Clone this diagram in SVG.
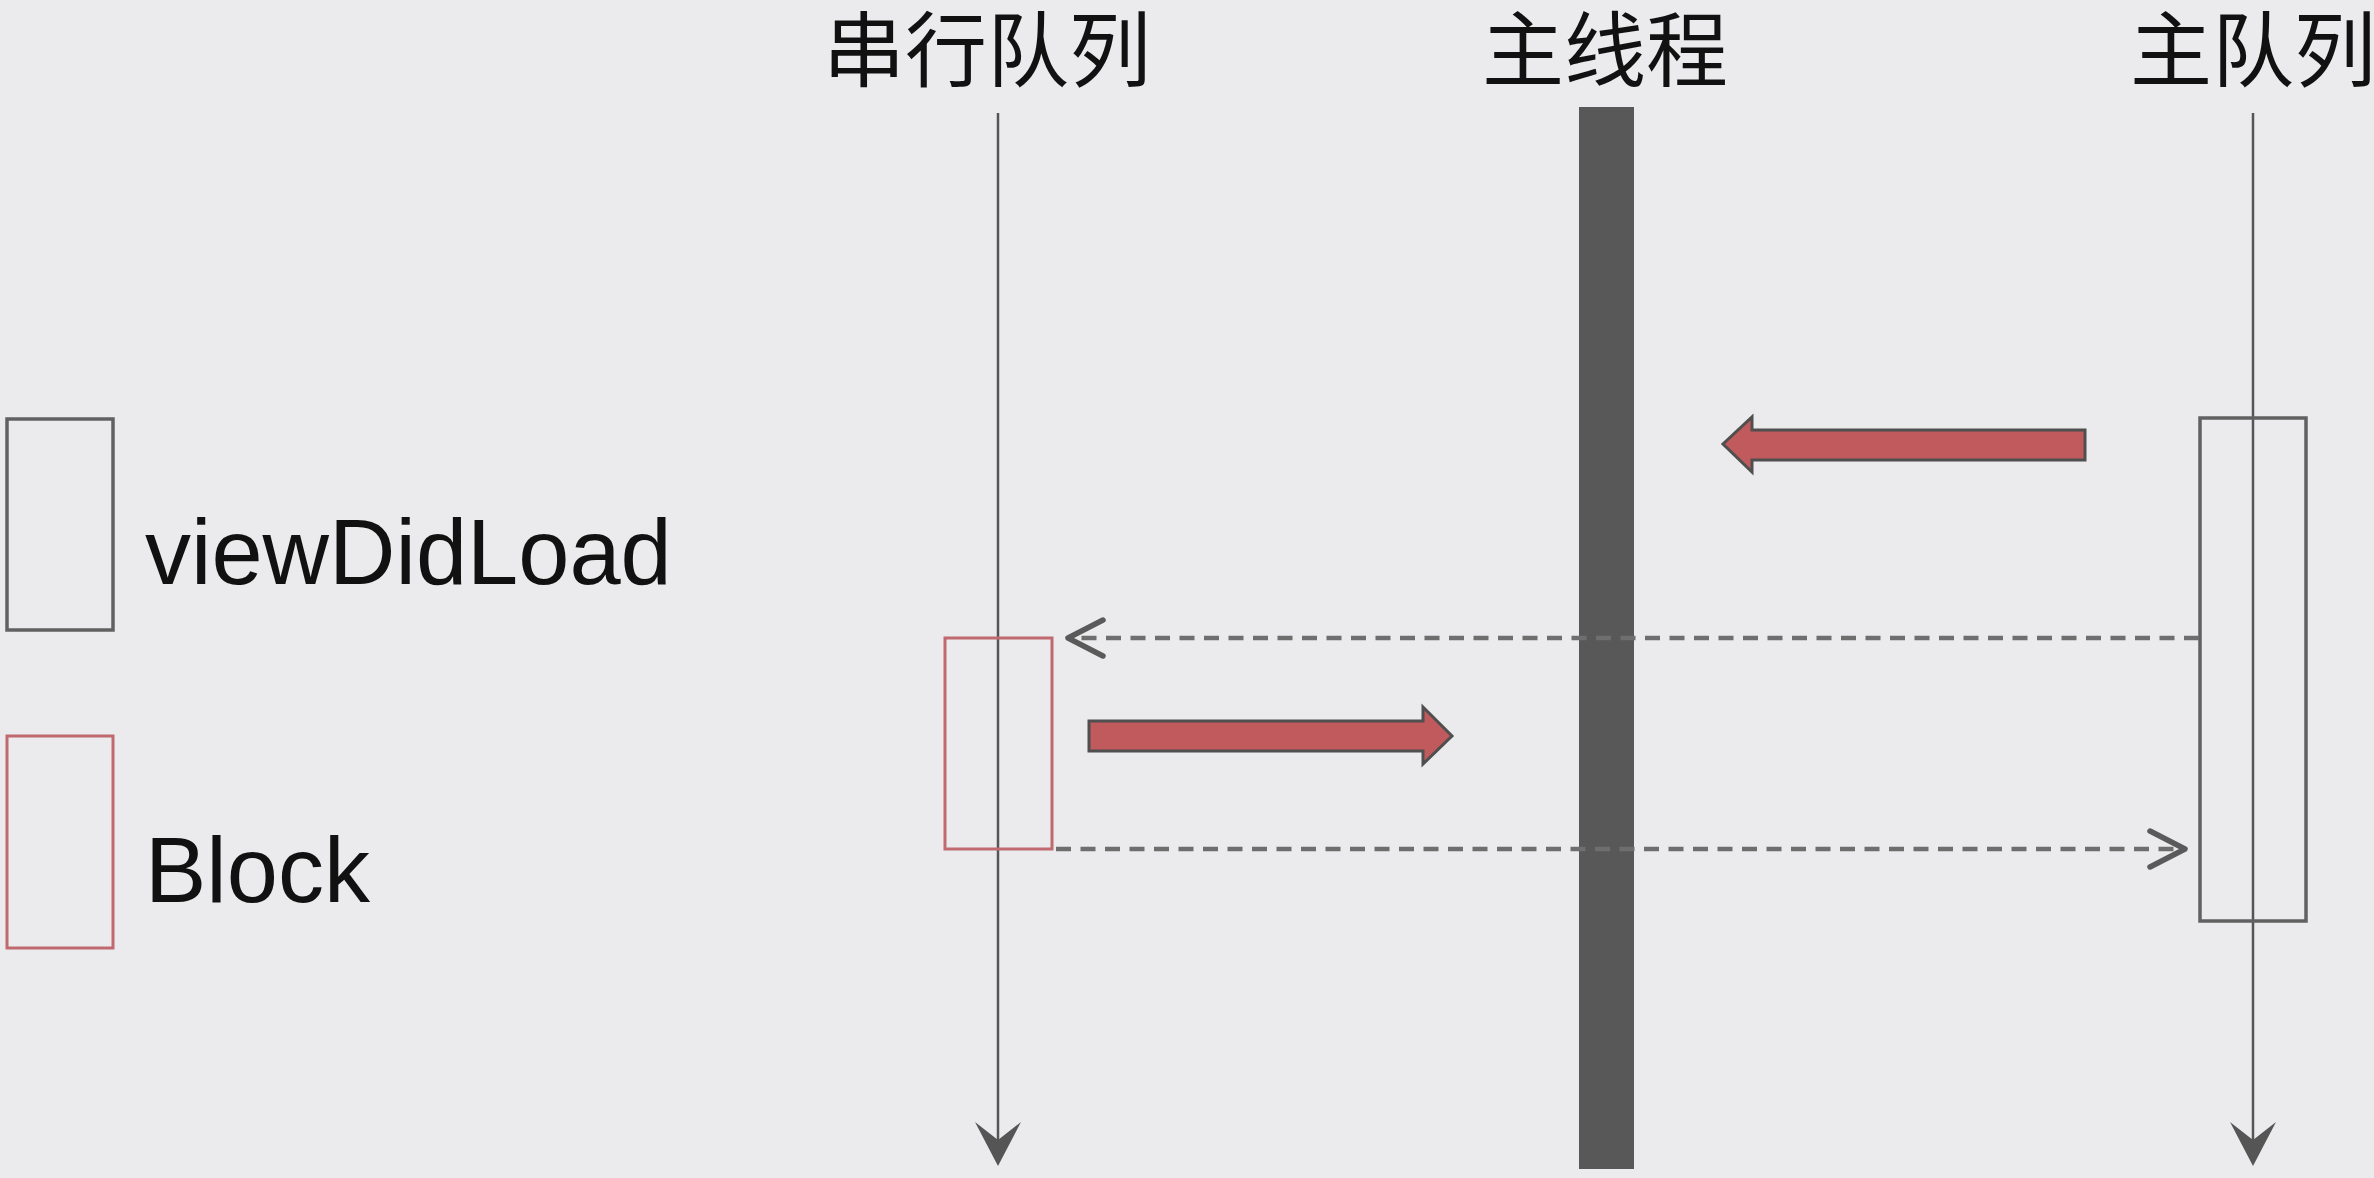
<svg xmlns="http://www.w3.org/2000/svg" width="2374" height="1178" viewBox="0 0 2374 1178">
<defs>
<style>
.cjk{font-family:"Noto Sans CJK SC","Noto Sans",sans-serif;font-size:82px;fill:#111;}
.lbl{font-family:"Liberation Sans",Arial,sans-serif;font-size:92px;fill:#111;}
.life{stroke:#555;stroke-width:2.5;fill:none;}
.act{fill:none;stroke:#616161;stroke-width:3.5;}
.blk{fill:none;stroke:#c06a70;stroke-width:3;}
.dash{stroke:#6e6e6e;stroke-width:4.5;stroke-dasharray:15 9.5;fill:none;}
.chev{stroke:#5a5a5a;stroke-width:5.5;fill:none;stroke-linecap:round;stroke-linejoin:round;}
.big{fill:#c05a5c;stroke:#4f4f4f;stroke-width:3;stroke-linejoin:miter;}
.head{fill:#555;}
</style>
</defs>
<rect width="2374" height="1178" fill="#ebebed"/>
<g id="legend-viewDidLoad">
<rect x="7" y="419" width="106" height="211" class="act"/>
<text x="145" y="584" class="lbl">viewDidLoad</text>
</g>
<g id="legend-block">
<rect x="7" y="736" width="106" height="212" class="blk"/>
<text x="145" y="902" class="lbl">Block</text>
</g>
<g id="serial-queue">
<text x="823" y="80" class="cjk">串行队列</text>
<line x1="998" y1="113" x2="998" y2="1150" class="life"/>
<path d="M975,1122 L998,1166 L1021,1122 L998,1140 Z" class="head"/>
<rect x="945" y="638" width="107" height="211" class="blk"/>
</g>
<g id="main-thread">
<text x="1605" y="80" class="cjk" text-anchor="middle">主线程</text>
<rect x="1579" y="107" width="55" height="1062" fill="#585858"/>
</g>
<g id="main-queue">
<text x="2253" y="80" class="cjk" text-anchor="middle">主队列</text>
<line x1="2253" y1="113" x2="2253" y2="1150" class="life"/>
<path d="M2230,1122 L2253,1166 L2276,1122 L2253,1140 Z" class="head"/>
<rect x="2200" y="418" width="106" height="503" class="act" fill="#ebebed"/>
</g>
<g id="connectors">
<line x1="2199" y1="638" x2="1075" y2="638" class="dash"/>
<polyline points="1103,620 1068,638 1103,656" class="chev"/>
<line x1="1056" y1="849" x2="2180" y2="849" class="dash"/>
<polyline points="2150,831 2185,849 2150,867" class="chev"/>
<path d="M2085,430 L1752,430 L1752,417 L1723,444 L1752,472 L1752,460 L2085,460 Z" class="big"/>
<path d="M1089,721 L1423,721 L1423,707 L1452,736 L1423,764 L1423,751 L1089,751 Z" class="big"/>
</g>
</svg>
